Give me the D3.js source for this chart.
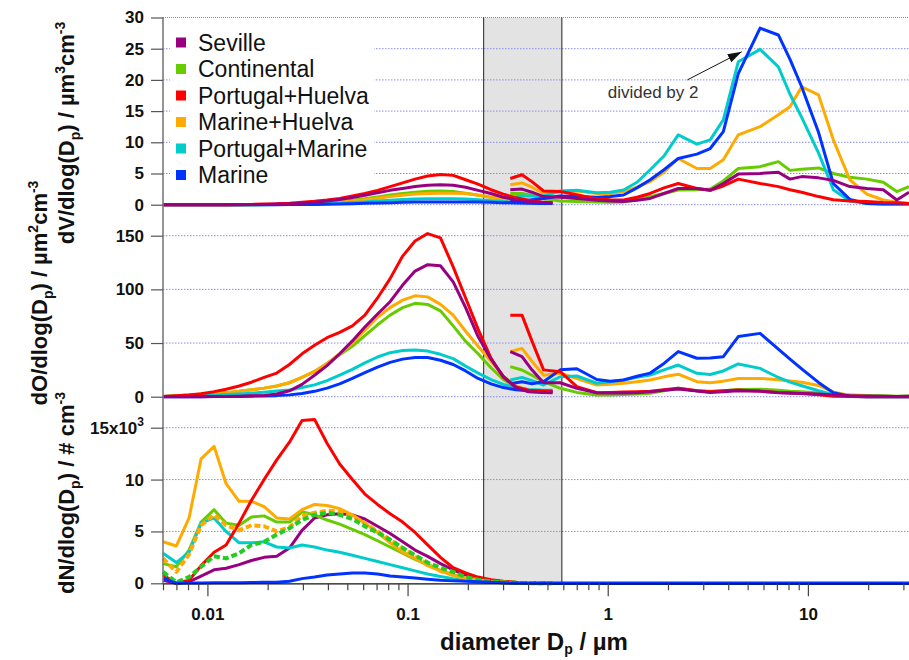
<!DOCTYPE html>
<html><head><meta charset="utf-8">
<script src="https://cdn.jsdelivr.net/npm/d3@7/dist/d3.min.js"></script>
<style>
html,body{margin:0;padding:0;background:#fff;}
svg{display:block;font-family:"Liberation Sans",Arial,Helvetica,sans-serif;}
</style></head><body>
<svg id="chart" width="909" height="660"></svg>
<script>
// ================= DATA =================
const seriesNames  = ["Seville","Continental","Portugal+Huelva","Marine+Huelva","Portugal+Marine","Marine"];
const seriesColors = ["#990080","#66cc00","#ff0000","#ffaa00","#00cccc","#0033ff"];

// diameters (µm): fine-mode sizer and coarse-mode counter
const diamFine = [0.0060,0.0070,0.0081,0.0093,0.0108,0.0124,0.0144,0.0166,0.0192,0.0222,0.0257,0.0297,0.0343,0.0396,0.0458,0.0530,0.0612,0.0708,0.0818,0.0945,0.109,0.126,0.146,0.169,0.195,0.225,0.261,0.301,0.348,0.402,0.465,0.530];
const diamCoarse = [0.326,0.373,0.418,0.478,0.579,0.701,0.882,1.03,1.20,1.40,1.63,1.91,2.25,2.79,3.25,3.78,4.49,5.77,7.12,8.14,9.31,11.3,13.4,16.2,19.7,23.8,27.8,32.0];

// ---- dV/dlogDp (µm3 cm-3) ----
const vSevilleFine     = [0,0,0,0,0,0,0,0.02,0.05,0.1,0.15,0.25,0.4,0.6,0.85,1.15,1.5,1.9,2.3,2.6,2.9,3.1,3.2,3.1,2.8,2.3,1.8,1.2,0.8,0.5,0.35,0.3];
const vContinentalFine = [0,0,0,0,0,0,0,0,0.02,0.05,0.1,0.15,0.25,0.35,0.5,0.7,0.95,1.25,1.55,1.8,2.0,2.15,2.2,2.1,1.85,1.5,1.2,0.9,0.6,0.4,0.3,0.25];
const vPortHuelvaFine  = [0,0,0,0,0,0,0.02,0.05,0.1,0.15,0.25,0.4,0.55,0.75,1.0,1.4,1.8,2.3,2.9,3.5,4.1,4.6,4.85,4.7,4.0,3.3,2.4,1.7,1.1,0.7,0.45,0.3];
const vMarHuelvaFine   = [0,0,0,0,0,0,0,0,0.02,0.05,0.1,0.15,0.2,0.3,0.45,0.6,0.8,1.05,1.3,1.5,1.7,1.8,1.85,1.85,1.8,1.55,1.2,0.9,0.6,0.4,0.3,0.25];
const vPortMarineFine  = [0,0,0,0,0,0,0,0,0,0.02,0.05,0.08,0.12,0.18,0.25,0.35,0.45,0.6,0.72,0.82,0.9,0.95,0.95,0.95,0.9,0.8,0.65,0.5,0.4,0.3,0.25,0.2];
const vMarineFine      = [0,0,0,0,0,0,0,0,0,0,0.02,0.03,0.05,0.08,0.12,0.16,0.22,0.28,0.33,0.38,0.42,0.45,0.45,0.45,0.45,0.42,0.38,0.33,0.28,0.24,0.2,0.18];

const vSevilleCoarse     = [2.4,2.5,2.0,1.3,1.2,1.0,0.7,0.6,0.5,0.7,1.0,1.8,2.6,2.6,2.3,3.4,4.9,5.0,5.2,4.1,4.5,4.3,3.9,2.9,2.6,2.4,0.75,2.0];
const vContinentalCoarse = [1.8,1.8,1.5,1.0,0.6,0.5,0.45,0.4,0.45,0.8,1.3,1.8,2.35,2.4,2.5,3.8,5.8,6.1,6.9,5.5,5.7,5.9,5.0,4.4,4.1,3.6,2.1,2.9];
const vPortHuelvaCoarse  = [4.2,4.8,3.7,2.2,2.1,1.6,0.9,0.8,0.75,1.2,1.8,2.7,3.4,2.6,2.3,3.0,4.1,3.4,2.9,2.4,2.0,1.3,0.8,0.6,0.5,0.35,0.3,0.2];
const vMarHuelvaCoarse   = [3.2,3.5,2.8,1.8,2.1,2.2,1.8,1.8,2.1,2.8,3.7,5.2,7.4,5.8,5.8,7.2,11.2,12.5,14.4,15.7,18.9,17.6,10.4,4.0,1.7,0.75,0.4,0.2];
const vPortMarineCoarse  = [1.2,1.4,1.4,1.4,2.2,2.3,1.9,2.0,2.35,3.6,5.6,7.8,11.2,9.7,10.4,13.6,22.9,24.9,22.1,17.7,14.0,8.3,2.4,0.6,0.2,0.1,0.1,0.1];
const vMarineCoarse      = [0.5,0.6,0.8,1.0,1.4,1.3,1.2,1.3,1.55,2.7,4.0,5.6,7.4,8.1,9.0,11.7,21.0,28.3,27.2,23.3,18.9,11.6,3.4,0.85,0.2,0.1,0.1,0.1];

// ---- dO/dlogDp (µm2 cm-3) ----
const sSevilleFine     = [0,0,0,0,0.2,0.3,0.5,0.8,1.2,2.5,5.5,11.5,20,29,40,52,65,77,88.5,104,117,123,122,107,83,56,35,19,8.5,4.5,3.8,3.7];
const sContinentalFine = [0.3,0.8,1.5,2.2,3,3.8,5,6.5,8,10,13,18,23.5,31,39,47,57,67,76,83,87,86,80,66,51.5,40,27,16,9,5.5,4.5,4];
const sPortHuelvaFine  = [0.3,0.8,1.5,2.8,4.7,7,10,13.5,18,22,30,40,48,55,60,66,76,92,110,131,145,152,148,121,92,63,36,18,9,6,5,4.5];
const sMarHuelvaFine   = [0.3,0.8,1.5,2.2,3,3.8,5,6.5,8,10,13,18,23.5,31,40,50,62,74,83,90,94,93,86,76,61,47,33,19,10,6,5,4.7];
const sPortMarineFine  = [0.2,0.5,0.8,1.2,1.5,2,2.6,3.3,4.2,5.2,6.3,8.5,11,15,20,25.5,31.5,37,41,43,43.5,42.5,39.5,35.5,28.5,22,16,11.5,8.5,6.7,6.2,6];
const sMarineFine      = [0,0,0,0,0.1,0.2,0.3,0.5,0.7,1.0,1.7,3,5,8,12,17,22.5,27.5,32,35,36.5,36.5,34,30,24,17,12,8.5,6.5,5.5,5.2,5];

const sSevilleCoarse     = [42,37.3,25,13,13,7.8,3.7,3.5,3.5,3.7,4.5,6,7.1,5.3,4,4.5,5.6,5.2,3.6,3.1,3,2.5,1.6,1,0.7,0.5,0.3,0.4];
const sContinentalCoarse = [28,24.9,20,14,7.8,4,1.6,1.6,2,2.5,3.1,5.5,7.8,5.5,5,5.5,6.8,7,6,5,4.7,3.5,2,1.6,1.2,0.8,0.5,0.6];
const sPortHuelvaCoarse  = [76,76,52,25,23.3,9.3,3.7,4,4.3,4.6,5,6.5,7.8,5.5,4.7,5.5,6.2,5,4,3.7,3,1.8,0.5,0.2,0,0,0,0];
const sMarHuelvaCoarse   = [42,45,33,20,21.8,17,10.9,11.7,12.5,14,15.6,18.5,21,14,13,14.5,17,17,15.7,14.6,13.5,10.5,4.5,1.2,0.5,0.3,0.2,0.2];
const sPortMarineCoarse  = [15.6,18,15,10.9,18.6,19.3,12.5,14,15.6,18,20.2,25,29.5,21.8,20.7,24,30.5,26.4,17.9,13.6,10.2,5.5,1.8,0.3,0,0,0,0];
const sMarineCoarse      = [12,14,12,14,25,26,16,14.5,15.6,19,22,31,42,35.8,36,37.3,56,59,44.4,35,26,13.3,3.7,0.5,0,0,0,0];

// ---- dN/dlogDp (10^3 # cm-3) ----
const nSevilleFine     = [0.3,0,0.15,0.7,1.3,1.45,1.8,2.2,2.5,2.6,3.4,5.1,6.3,6.6,6.7,6.6,6.2,5.5,4.8,4.0,3.2,2.6,1.9,1.3,0.8,0.45,0.25,0.15,0.08,0.04,0.02,0];
const nContinentalFine = [1.9,1.6,3.2,5.9,7.1,5.8,5.6,6.4,6.5,5.9,5.9,6.9,6.6,6.1,5.7,5.2,4.7,4.1,3.5,2.9,2.3,1.8,1.2,0.8,0.5,0.3,0.15,0.08,0.04,0.02,0.01,0];
const nPortHuelvaFine  = [0.8,0,0.3,1.7,3.0,3.7,5.8,8.0,10.0,11.9,13.6,15.7,15.8,13.5,11.5,10.0,8.6,7.6,6.7,5.9,4.9,3.7,2.5,1.5,1.0,0.6,0.35,0.2,0.1,0.05,0.03,0];
const nMarHuelvaFine   = [4.0,3.6,6.3,12.0,13.2,9.6,7.9,7.9,7.4,6.3,6.2,7.1,7.6,7.5,7.2,6.6,5.8,4.9,3.9,3.0,2.4,1.7,1.2,0.8,0.45,0.3,0.15,0.1,0.05,0.03,0.02,0];
const nPortMarineFine  = [2.9,2.0,3.0,5.8,6.3,5.0,3.9,3.9,4.0,3.5,3.4,3.7,3.5,3.2,3.0,2.7,2.4,2.1,1.8,1.5,1.2,0.9,0.65,0.45,0.3,0.2,0.1,0.05,0.02,0.01,0,0];
const nMarineFine      = [0.5,0,0.02,0.03,0.05,0.05,0.05,0.08,0.1,0.1,0.2,0.45,0.6,0.8,0.9,1.0,1.0,0.9,0.7,0.6,0.5,0.4,0.3,0.25,0.2,0.15,0.1,0.05,0.02,0.01,0,0];
const nDashedOrangeFine= [2.4,1.1,2.8,5.6,6.6,5.6,5.1,5.6,5.5,5.0,5.4,6.5,6.8,7.0,6.9,6.5,5.8,5.0,4.2,3.4,2.6,1.8,1.2,0.8,0.5,0.3,0.15,0.08,0.04,0.02,0.01,0];
const nDashedGreenFine = [1.1,0.1,0.6,1.6,2.6,2.4,2.9,3.7,4.0,4.7,5.3,6.1,6.6,6.8,6.6,6.2,5.5,4.9,4.2,3.4,2.7,2.0,1.5,1.1,0.6,0.35,0.18,0.1,0.05,0.02,0.01,0];
const nCoarseAll       = [0,0,0,0,0,0,0,0,0,0,0,0,0,0,0,0,0,0,0,0,0,0,0,0,0,0,0,0];

// ticks
const vTicks = [0,5,10,15,20,25,30];
const sTicks = [0,50,100,150];
const nTicks = [0,5,10,15];
const xMajorTicks = [0.01,0.1,1,10];
const xMajorLabels = ["0.01","0.1","1","10"];
const xMinorTicks = [0.006,0.007,0.008,0.009,0.02,0.03,0.04,0.05,0.06,0.07,0.08,0.09,0.2,0.3,0.4,0.5,0.6,0.7,0.8,0.9,2,3,4,5,6,7,8,9,20,30];
const grayBand = [0.24, 0.59];

// ================= BUILD =================
const series = [
  {vF:vSevilleFine, vC:vSevilleCoarse, sF:sSevilleFine, sC:sSevilleCoarse, nF:nSevilleFine},
  {vF:vContinentalFine, vC:vContinentalCoarse, sF:sContinentalFine, sC:sContinentalCoarse, nF:nContinentalFine},
  {vF:vPortHuelvaFine, vC:vPortHuelvaCoarse, sF:sPortHuelvaFine, sC:sPortHuelvaCoarse, nF:nPortHuelvaFine},
  {vF:vMarHuelvaFine, vC:vMarHuelvaCoarse, sF:sMarHuelvaFine, sC:sMarHuelvaCoarse, nF:nMarHuelvaFine},
  {vF:vPortMarineFine, vC:vPortMarineCoarse, sF:sPortMarineFine, sC:sPortMarineCoarse, nF:nPortMarineFine},
  {vF:vMarineFine, vC:vMarineCoarse, sF:sMarineFine, sC:sMarineCoarse, nF:nMarineFine}
].map((s,i)=>Object.assign(s,{name:seriesNames[i], color:seriesColors[i]}));

const svg = d3.select("#chart");
const x  = d3.scaleLog().domain([0.006, 32]).range([163, 909]);
const yV = d3.scaleLinear().domain([0, 30]).range([204.7, 17.5]);
const yS = d3.scaleLinear().domain([0, 150]).range([396.7, 235.7]);
const yN = d3.scaleLinear().domain([0, 15]).range([583.3, 427.7]);
const xL = 163, xR = 909, yTop = yV(30), yBot = yN(0);

// gray band
svg.append("rect").attr("x", x(grayBand[0])).attr("y", yTop)
  .attr("width", x(grayBand[1]) - x(grayBand[0])).attr("height", yBot - yTop)
  .attr("fill", "#e3e3e3");

// gridlines
function grid(scale, ticks){
  ticks.forEach(t=>{
    svg.append("line").attr("x1", xL).attr("x2", xR)
      .attr("y1", scale(t)).attr("y2", scale(t))
      .attr("stroke", (scale===yV && t===30) ? "#8888aa" : "#8a8af0")
      .attr("stroke-width", 1)
      .attr("stroke-dasharray", (scale===yV && t===30) ? "1,1" : "1.5,1.5");
  });
}
grid(yV, vTicks); grid(yS, sTicks); grid(yN, nTicks.filter(t=>t>0));

// band edges
grayBand.forEach(d=>{
  svg.append("line").attr("x1", x(d)).attr("x2", x(d)).attr("y1", yTop).attr("y2", yBot)
    .attr("stroke", "#222").attr("stroke-width", 1);
});

// legend background
svg.append("rect").attr("x", 170).attr("y", 25).attr("width", 204).attr("height", 164).attr("fill", "#fff");

// lines
const lineGen = (ys)=>d3.line().x(p=>x(p[0])).y(p=>ys(p[1]));
function drawSeg(xs, vals, ys, color, w, dash){
  svg.append("path").datum(xs.map((d,i)=>[d, vals[i]]))
    .attr("d", lineGen(ys)).attr("fill","none").attr("stroke", color)
    .attr("stroke-width", w).attr("stroke-linejoin","round").attr("stroke-linecap","butt")
    .attr("stroke-dasharray", dash || null);
}
const topOrder = [1,3,4,5,2,0];
topOrder.forEach(i=>{
  const s = series[i];
  drawSeg(diamFine, s.vF, yV, s.color, 3);
  drawSeg(diamCoarse, s.vC, yV, s.color, 3);
});
topOrder.forEach(i=>{
  const s = series[i];
  drawSeg(diamFine, s.sF, yS, s.color, 3);
  drawSeg(diamCoarse, s.sC, yS, s.color, 3);
});
[0,1,4,3,2].forEach(i=>{
  const s = series[i];
  drawSeg(diamFine, s.nF, yN, s.color, 3);
});
drawSeg(diamCoarse, nCoarseAll, yN, series[5].color, 3.5);
drawSeg(diamFine, nDashedOrangeFine, yN, "#ffaa00", 4, "6,3");
drawSeg(diamFine, nDashedGreenFine, yN, "#22cc22", 4, "6,3");
drawSeg(diamFine, series[5].nF, yN, series[5].color, 3);

// left axis line
svg.append("line").attr("x1", xL).attr("x2", xL).attr("y1", yTop).attr("y2", yBot + 1)
  .attr("stroke", "#7a7a7a").attr("stroke-width", 1.6);

// left axes
function leftAxis(scale, ticks, fmt){
  const g = svg.append("g").attr("transform", `translate(${xL},0)`)
    .call(d3.axisLeft(scale).tickValues(ticks).tickSize(12).tickPadding(7).tickFormat(fmt));
  g.select(".domain").remove();
  g.selectAll(".tick line").attr("stroke", "#555").attr("stroke-width", 1.2);
  g.selectAll(".tick text").attr("font-family", "Liberation Sans, Arial, sans-serif")
    .attr("font-size", 17).attr("font-weight", "bold").attr("fill", "#111");
  return g;
}
leftAxis(yV, vTicks, d=>d);
leftAxis(yS, sTicks, d=>d);
leftAxis(yN, nTicks, d=> d===15 ? "" : d);
// 15x10^3 label
const lab15 = svg.append("text").attr("x", 144).attr("y", yN(15)).attr("dy", "0.35em")
  .attr("text-anchor", "end").attr("font-size", 17).attr("font-weight", "bold").attr("fill", "#111");
lab15.append("tspan").text("15x10");
lab15.append("tspan").attr("dy", -8).attr("font-size", 12).text("3");

// bottom axis
const gx = svg.append("g").attr("transform", `translate(0,${yBot})`)
  .call(d3.axisBottom(x).tickValues(xMajorTicks.concat(xMinorTicks)).tickSize(13).tickSizeOuter(0)
    .tickFormat(d=>{const k = xMajorTicks.indexOf(d); return k>=0 ? xMajorLabels[k] : "";}));
gx.select(".domain").attr("stroke", "#111").attr("stroke-width", 1.2);
gx.selectAll(".tick line").attr("stroke", "#444").attr("stroke-width", 1.2)
  .attr("y2", d=> xMajorTicks.indexOf(d)>=0 ? 13 : 7);
gx.selectAll(".tick text").attr("y", 37).attr("dy", 0)
  .attr("font-family", "Liberation Sans, Arial, sans-serif")
  .attr("font-size", 17).attr("font-weight", "bold").attr("fill", "#111");

// titles with sub/superscripts
function richText(sel, parts, subSize, subShift){
  let shift = 0;
  parts.forEach(p=>{
    const target = p.sub ? subShift : (p.sup ? -9 : 0);
    const t = sel.append("tspan").text(p.t);
    if (target !== shift) t.attr("dy", target - shift);
    if (p.sub || p.sup) t.attr("font-size", subSize);
    shift = target;
  });
}
function yTitle(cx, cy, parts){
  const t = svg.append("text").attr("transform", `translate(${cx},${cy}) rotate(-90)`)
    .attr("text-anchor", "middle").attr("font-size", 22).attr("font-weight", "bold").attr("fill", "#111");
  richText(t, parts, 14, 6);
}
yTitle(74, 133, [{t:"dV/dlog(D"},{t:"p",sub:true},{t:") / µm"},{t:"3",sup:true},{t:"cm"},{t:"-3",sup:true}]);
yTitle(47, 293, [{t:"dO/dlog(D"},{t:"p",sub:true},{t:") / µm"},{t:"2",sup:true},{t:"cm"},{t:"-3",sup:true}]);
yTitle(74, 493, [{t:"dN/dlog(D"},{t:"p",sub:true},{t:") / # cm"},{t:"-3",sup:true}]);

const xt = svg.append("text").attr("x", 534).attr("y", 650).attr("text-anchor", "middle")
  .attr("font-size", 24).attr("font-weight", "bold").attr("fill", "#111");
richText(xt, [{t:"diameter D"},{t:"p",sub:true},{t:" / µm"}], 14, 4);

// legend
const lg = svg.append("g");
series.forEach((s,i)=>{
  const cy = 42.5 + i*26.5;
  lg.append("rect").attr("x", 176).attr("y", cy-5).attr("width", 10).attr("height", 10).attr("fill", s.color);
  lg.append("text").attr("x", 198).attr("y", cy + 8).attr("font-size", 23).attr("fill", "#111").text(s.name);
});

// annotation
const defs = svg.append("defs");
defs.append("marker").attr("id","ah").attr("viewBox","0 0 14 10").attr("refX",14).attr("refY",5)
  .attr("markerWidth",14).attr("markerHeight",10).attr("markerUnits","userSpaceOnUse").attr("orient","auto")
  .append("path").attr("d","M0,0.5 L14,5 L0,9.5 Z").attr("fill","#111");
svg.append("line").attr("x1", x(2.5)).attr("y1", yV(20)).attr("x2", x(4.67)).attr("y2", yV(24.5))
  .attr("stroke","#111").attr("stroke-width",1).attr("marker-end","url(#ah)");
svg.append("text").attr("x", x(1.0)).attr("y", yV(17.15)).attr("font-size", 17).attr("fill","#333")
  .text("divided by 2");
</script>
</body></html>
